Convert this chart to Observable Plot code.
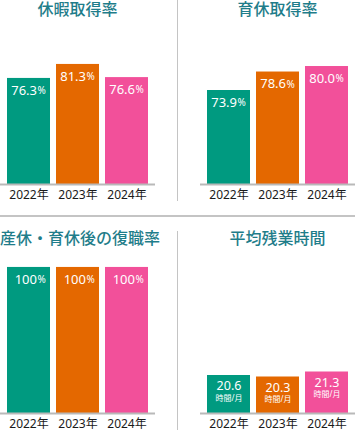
<!DOCTYPE html>
<html>
<head>
<meta charset="utf-8">
<script src="https://cdn.jsdelivr.net/npm/d3@7"></script>
<script src="https://cdn.jsdelivr.net/npm/@observablehq/plot@0.6"></script>
<style>
  html, body { margin: 0; padding: 0; background: #fff; }
  #wrap { position: relative; width: 355px; height: 433px; overflow: hidden;
          font-family: "Noto Sans", "Noto Sans CJK JP", sans-serif; }
  .title { position: absolute; width: 155px; text-align: center; font-size: 16px;
           line-height: 17px; color: #1f7d8a; font-weight: 500; white-space: nowrap;
           font-family: "Noto Sans CJK JP", sans-serif; }
  .panel { position: absolute; }
  .hline { position: absolute; left: 0; top: 215px; width: 355px; height: 1.5px; background: #c4c4c4; }
  .vline { position: absolute; left: 176.5px; width: 1.5px; background: #c4c4c4; }
</style>
</head>
<body>
<div id="wrap">
  <div class="hline"></div>
  <div class="vline" style="top:0;height:201px"></div>
  <div class="vline" style="top:231px;height:199px"></div>
</div>
<script>
// ---- data ----
const years = ["2022年", "2023年", "2024年"];
const titles = ["休暇取得率", "育休取得率", "産休・育休後の復職率", "平均残業時間"];
const leaveRate = [76.3, 81.3, 76.6];        // 休暇取得率 (%)
const childcareRate = [73.9, 78.6, 80.0];    // 育休取得率 (%)
const returnRate = [100, 100, 100];          // 産休・育休後の復職率 (%)
const overtime = [20.6, 20.3, 21.3];         // 平均残業時間 (時間/月)
const overtimeUnit = "時間/月";
const pctUnit = "%";

// ---- styles ----
const palette = ["#009a80", "#e46800", "#f2509a"];
const fontFamily = '"Noto Sans", "Noto Sans CJK JP", sans-serif';

const wrap = document.getElementById("wrap");

function panel({title, values, yDomain, fmt, unit, unitInline, left, titleTop, top, height, marginBottom}) {
  const data = years.map((year, i) => ({year, value: values[i]}));
  const t = document.createElement("div");
  t.className = "title";
  t.style.left = left + "px";
  t.style.top = titleTop + "px";
  t.textContent = title;
  wrap.appendChild(t);

  const marks = [
    Plot.barY(data, {x: "year", y1: yDomain[0], y2: "value", fill: "year"}),
    Plot.ruleY([yDomain[0]], {stroke: "#b9b9b9", strokeWidth: 2}),
    Plot.axisX({tickSize: 0, tickPadding: 6, fontSize: 12, label: null, fill: "#1a1a1a"})
  ];
  if (unitInline) {
    marks.push(
      Plot.text(data, {x: "year", y: "value", text: d => fmt(d.value), textAnchor: "end",
        dx: 8, dy: 12, lineAnchor: "middle", fill: "white", fontSize: 13}),
      Plot.text(data, {x: "year", y: "value", text: () => unit, textAnchor: "start",
        dx: 8.5, dy: 12.5, lineAnchor: "middle", fill: "white", fontSize: 10})
    );
  } else {
    marks.push(
      Plot.text(data, {x: "year", y: "value", text: d => fmt(d.value),
        dy: 10.5, lineAnchor: "middle", fill: "white", fontSize: 12.5}),
      Plot.text(data, {x: "year", y: "value", text: () => unit,
        dy: 22.5, lineAnchor: "middle", fill: "white", fontSize: 8})
    );
  }

  const svg = Plot.plot({
    width: 155, height, marginTop: 0, marginBottom, marginLeft: 0, marginRight: 0,
    x: {domain: years, padding: 0.12, axis: null},
    y: {domain: yDomain, axis: null},
    color: {domain: years, range: palette},
    style: {fontFamily, fontSize: "12px", background: "transparent", overflow: "visible"},
    marks
  });
  const box = document.createElement("div");
  box.className = "panel";
  box.style.left = left + "px";
  box.style.top = top + "px";
  box.appendChild(svg);
  wrap.appendChild(box);
}

const f1 = d3.format(".1f");
const f0 = d3.format("d");

panel({title: titles[0], values: leaveRate, yDomain: [38.4, 97], fmt: f1, unit: pctUnit, unitInline: true,
  left: 0, titleTop: 0, top: 20, height: 196, marginBottom: 32});
panel({title: titles[1], values: childcareRate, yDomain: [50, 91.7], fmt: f1, unit: pctUnit, unitInline: true,
  left: 200, titleTop: 0, top: 20, height: 196, marginBottom: 32});
panel({title: titles[2], values: returnRate, yDomain: [0, 111.6], fmt: f0, unit: pctUnit, unitInline: true,
  left: 0, titleTop: 229, top: 250, height: 183, marginBottom: 20});
panel({title: titles[3], values: overtime, yDomain: [13, 45.6], fmt: f1, unit: overtimeUnit, unitInline: false,
  left: 200, titleTop: 229, top: 250, height: 183, marginBottom: 20});
</script>
</body>
</html>
